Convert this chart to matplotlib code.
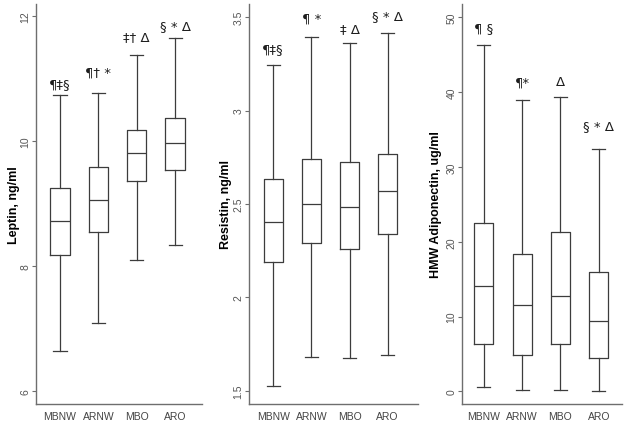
import matplotlib
matplotlib.use("Agg")
import matplotlib.pyplot as plt

plt.rcParams['font.family'] = ['Liberation Sans', 'DejaVu Sans']

groups = ["MBNW", "ARNW", "MBO", "ARO"]

# Leptin, ng/ml
lep_low = [6.64, 7.09, 8.10, 8.34]
lep_q1 = [8.18, 8.54, 9.36, 9.53]
lep_med = [8.72, 9.05, 9.81, 9.97]
lep_q3 = [9.25, 9.58, 10.18, 10.37]
lep_high = [10.73, 10.76, 11.38, 11.64]
lep_marks = ["¶‡§", "¶† *", "‡† Δ", "§ * Δ"]
lep_mark_y = [10.91, 11.10, 11.66, 11.84]

# Resistin, ng/ml
res_low = [1.525, 1.680, 1.675, 1.694]
res_q1 = [2.190, 2.290, 2.260, 2.338]
res_med = [2.404, 2.502, 2.484, 2.570]
res_q3 = [2.633, 2.740, 2.725, 2.770]
res_high = [3.243, 3.395, 3.361, 3.414]
res_marks = ["¶‡§", "¶ *", "‡ Δ", "§ * Δ"]
res_mark_y = [3.33, 3.496, 3.44, 3.51]

# HMW adiponectin, ug/ml
adi_low = [0.58, 0.13, 0.13, 0.0]
adi_q1 = [6.29, 4.82, 6.33, 4.42]
adi_med = [14.05, 11.5, 12.7, 9.37]
adi_q3 = [22.5, 18.4, 21.3, 15.9]
adi_high = [46.3, 38.95, 39.3, 32.4]
adi_marks = ["¶ §", "¶*", "Δ", "§ * Δ"]
adi_mark_y = [48.6, 41.4, 41.4, 35.6]

panels = [
    dict(rect=[0.057, 0.0515, 0.264, 0.937], low=lep_low, q1=lep_q1,
         med=lep_med, q3=lep_q3, high=lep_high, marks=lep_marks,
         mark_y=lep_mark_y, ylim=(5.79, 12.19), ticks=[6, 8, 10, 12],
         ylabel="Leptin, ng/ml", xlim=(0.37, 4.70), lab_x=-0.095),
    dict(rect=[0.396, 0.0515, 0.269, 0.937], low=res_low, q1=res_q1,
         med=res_med, q3=res_q3, high=res_high, marks=res_marks,
         mark_y=res_mark_y, ylim=(1.43, 3.571),
         ticks=[1.5, 2, 2.5, 3, 3.5], ylabel="Resistin, ng/ml",
         xlim=(0.37, 4.80), lab_x=-0.10),
    dict(rect=[0.7345, 0.0515, 0.254, 0.937], low=adi_low, q1=adi_q1,
         med=adi_med, q3=adi_q3, high=adi_high, marks=adi_marks,
         mark_y=adi_mark_y, ylim=(-1.7, 51.8),
         ticks=[0, 10, 20, 30, 40, 50],
         ylabel="HMW Adiponectin, ug/ml", xlim=(0.43, 4.60),
         lab_x=-0.125),
]

fig = plt.figure(figsize=(6.29, 4.27), dpi=100)
fig.patch.set_facecolor("white")

line_c = "#3c3c3c"
spine_c = "#6e6e6e"

for p in panels:
    ax = fig.add_axes(p["rect"])
    stats = []
    for i, g in enumerate(groups):
        stats.append(dict(label=g, whislo=p["low"][i], q1=p["q1"][i],
                          med=p["med"][i], q3=p["q3"][i],
                          whishi=p["high"][i], fliers=[]))
    ax.bxp(stats, positions=[1, 2, 3, 4], widths=0.5, capwidths=0.34,
           showfliers=False,
           boxprops=dict(color=line_c, lw=0.9),
           medianprops=dict(color=line_c, lw=0.9),
           whiskerprops=dict(color=line_c, lw=0.9),
           capprops=dict(color=line_c, lw=0.9))
    for i, m in enumerate(p["marks"]):
        ax.text(i + 1, p["mark_y"][i], m, ha="center", va="center",
                fontsize=9.5, color="#1e1e1e",
                family=["DejaVu Sans"])

    ax.set_xlim(*p["xlim"])
    ax.set_ylim(*p["ylim"])
    ax.set_yticks(p["ticks"])
    ax.set_yticklabels([f"{t:g}" for t in p["ticks"]], rotation=90,
                       va="center", fontsize=7.5, color="#555555")
    ax.set_xticks([1, 2, 3, 4])
    ax.set_xticklabels(groups, fontsize=7.5, color="#444444")
    ax.tick_params(axis="x", length=0, pad=5)
    ax.tick_params(axis="y", length=3, width=0.8, color=spine_c, pad=1)
    ax.set_ylabel(p["ylabel"], fontsize=9, fontweight="bold")
    ax.yaxis.set_label_coords(p["lab_x"], 0.5)
    for s in ["top", "right"]:
        ax.spines[s].set_visible(False)
    for s in ["left", "bottom"]:
        ax.spines[s].set_color(spine_c)
        ax.spines[s].set_linewidth(1.0)

fig.savefig("out.png", dpi=100, facecolor="white")
